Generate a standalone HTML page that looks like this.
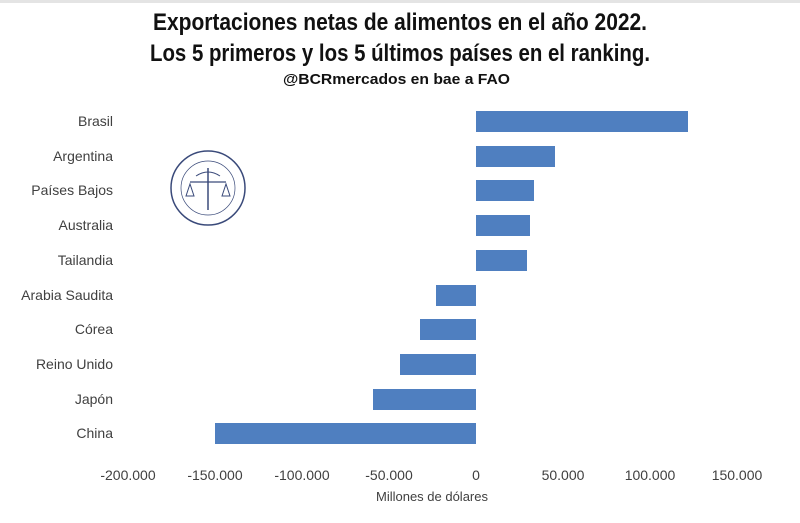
<!DOCTYPE html>
<html><head><meta charset="utf-8"><style>
html,body{margin:0;padding:0;background:#fff;}
svg{display:block}
</style></head><body>
<svg width="800" height="523" viewBox="0 0 800 523" xmlns="http://www.w3.org/2000/svg" font-family="Liberation Sans, sans-serif">
<rect width="800" height="523" fill="#fff"/>
<rect width="800" height="3" fill="#e4e4e4"/>
<g font-family="Liberation Sans Narrow, Liberation Sans, sans-serif" font-weight="bold" fill="#111" text-anchor="start">
<text x="153" y="30" font-size="24" textLength="494" lengthAdjust="spacingAndGlyphs">Exportaciones netas de alimentos en el año 2022.</text>
<text x="150" y="61" font-size="24" textLength="500" lengthAdjust="spacingAndGlyphs">Los 5 primeros y los 5 últimos países en el ranking.</text>
<text x="283" y="84" font-size="15" textLength="227" lengthAdjust="spacingAndGlyphs">@BCRmercados en bae a FAO</text>
</g>
<!-- logo -->
<g fill="none" stroke="#3a4a7a">
<circle cx="208" cy="188" r="37" stroke-width="1.5"/>
<circle cx="208" cy="188" r="27" stroke-width="0.7"/>
<line x1="208" y1="168" x2="208" y2="210" stroke-width="1.5"/>
<line x1="190" y1="182" x2="226" y2="182" stroke-width="1.2"/>
<path d="M186 196 l4 -12 l4 12 z M222 196 l4 -12 l4 12 z" stroke-width="1"/>
<path d="M196 176 q12 -8 24 0" stroke-width="1"/>
</g>
<!-- bars -->
<g fill="#4f7fc0">
<rect x="476" y="111" width="212" height="21"/>
<rect x="476" y="146" width="79" height="21"/>
<rect x="476" y="180" width="58" height="21"/>
<rect x="476" y="215" width="54" height="21"/>
<rect x="476" y="250" width="51" height="21"/>
<rect x="436" y="285" width="40" height="21"/>
<rect x="420" y="319" width="56" height="21"/>
<rect x="400" y="354" width="76" height="21"/>
<rect x="373" y="389" width="103" height="21"/>
<rect x="215" y="423" width="261" height="21"/>
</g>
<g font-size="14" fill="#404040" text-anchor="end">
<text x="113" y="126">Brasil</text>
<text x="113" y="161">Argentina</text>
<text x="113" y="195">Países Bajos</text>
<text x="113" y="230">Australia</text>
<text x="113" y="265">Tailandia</text>
<text x="113" y="300">Arabia Saudita</text>
<text x="113" y="334">Córea</text>
<text x="113" y="369">Reino Unido</text>
<text x="113" y="404">Japón</text>
<text x="113" y="438">China</text>
</g>
<g font-size="14" fill="#404040" text-anchor="middle">
<text x="128" y="480">-200.000</text>
<text x="215" y="480">-150.000</text>
<text x="302" y="480">-100.000</text>
<text x="389" y="480">-50.000</text>
<text x="476" y="480">0</text>
<text x="563" y="480">50.000</text>
<text x="650" y="480">100.000</text>
<text x="737" y="480">150.000</text>
<text x="432" y="501" font-size="13">Millones de dólares</text>
</g>
</svg>
</body></html>
